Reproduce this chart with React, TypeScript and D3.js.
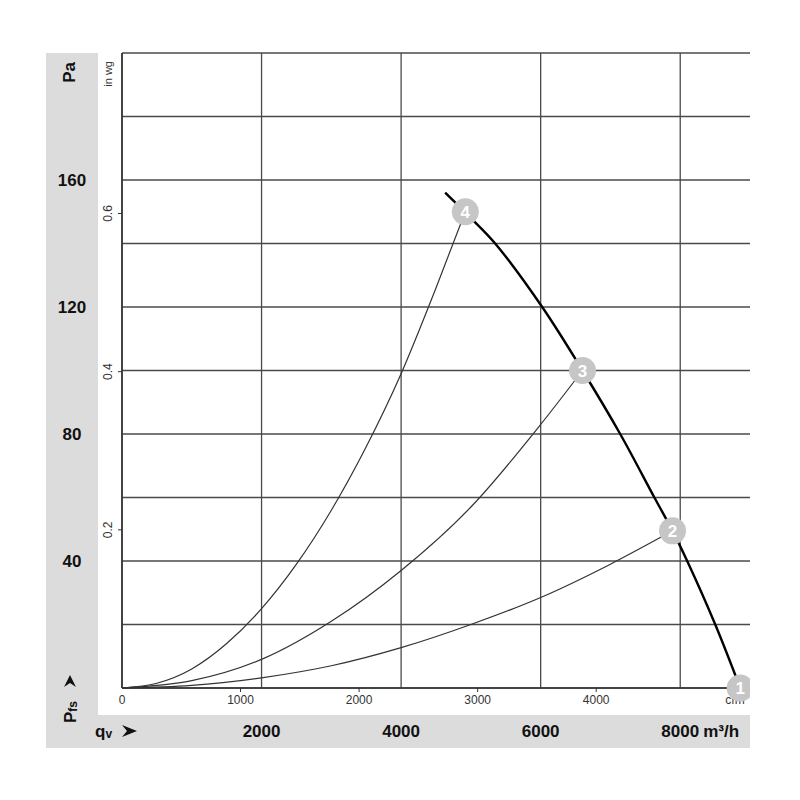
import React from "react";
import * as d3 from "d3";

// ---- data ----
const paTicks = [40, 80, 120, 160];
const qTicks = [2000, 4000, 6000, 8000];
const inwgTicks = [0.2, 0.4, 0.6];
const cfmTicks = [0, 1000, 2000, 3000, 4000];

// fan characteristic curve [m³/h, Pa]
const fanCurve: [number, number][] = [
  [4631, 156], [5000, 148], [5348, 140], [6022, 120], [6600, 100],
  [7140, 80], [7630, 60], [7890, 49.5], [8100, 40], [8502, 20], [8860, 0],
];

// system curves [m³/h, Pa]
const sys4: [number, number][] = [
  [0, 0], [500, 1.5], [1000, 6], [1500, 14], [2000, 25], [2500, 39],
  [3000, 56], [3500, 76], [4000, 99], [4500, 126], [4920, 150],
];
const sys3: [number, number][] = [
  [0, 0], [1000, 2.3], [2000, 9], [3000, 21], [4000, 37], [5000, 57],
  [6000, 83], [6600, 100],
];
const sys2: [number, number][] = [
  [0, 0], [1000, 0.8], [2000, 3.2], [3000, 7], [4000, 12.7], [5000, 20],
  [6000, 28.5], [7000, 39], [7890, 49.5],
];
const systemCurves = [sys2, sys3, sys4];

const markerIds = [1, 2, 3, 4];
const markerQ = [8860, 7890, 6600, 4920];
const markerPa = [0, 49.5, 100, 150];

const PA_PER_INWG = 249.089;
const M3H_PER_CFM = 1.699;

export default function App() {
  const x = d3.scaleLinear().domain([0, 9000]).range([122, 750]);
  const y = d3.scaleLinear().domain([0, 200]).range([688, 53]);
  const line = d3
    .line<[number, number]>()
    .x((d) => x(d[0]))
    .y((d) => y(d[1]))
    .curve(d3.curveMonotoneX);
  const fanLine = d3
    .line<[number, number]>()
    .x((d) => x(d[0]))
    .y((d) => y(d[1]))
    .curve(d3.curveCatmullRom.alpha(0.5));

  const hGrid = d3.range(0, 201, 20);
  const font = "'Liberation Sans', Arial, sans-serif";
  const gridColor = "#4a4a4a";

  return (
    <svg width={800} height={800} style={{ position: "absolute", left: 0, top: 0 }}>
      <rect width={800} height={800} fill="#fff" />
      <defs>
        <clipPath id="plotclip">
          <rect x={0} y={0} width={750} height={800} />
        </clipPath>
      </defs>
      {/* gray frame */}
      <rect x={46} y={53} width={52} height={695} fill="#dcdcdc" />
      <rect x={46} y={715} width={704} height={33} fill="#dcdcdc" />

      {/* grid */}
      {hGrid.map((v) => (
        <line key={"h" + v} x1={x(0)} x2={750} y1={y(v)} y2={y(v)} stroke={gridColor} strokeWidth={1.3} />
      ))}
      {[0, 2000, 4000, 6000, 8000].map((v) => (
        <line key={"v" + v} x1={x(v)} x2={x(v)} y1={y(200)} y2={y(0)} stroke={gridColor} strokeWidth={1.3} />
      ))}
      <line x1={x(0)} x2={x(0)} y1={y(200)} y2={y(0)} stroke="#333" strokeWidth={1.6} />
      <line x1={x(0)} x2={750} y1={y(0)} y2={y(0)} stroke="#333" strokeWidth={1.6} />

      {/* in wg ticks */}
      {inwgTicks.map((v) => {
        const yy = y(v * PA_PER_INWG);
        return (
          <g key={"iw" + v}>
            <line x1={x(0) - 4} x2={x(0)} y1={yy} y2={yy} stroke="#333" strokeWidth={1} />
            <text
              transform={`translate(${112},${yy}) rotate(-90)`}
              textAnchor="middle"
              fontFamily={font}
              fontSize={12}
              fill="#333"
            >
              {v.toFixed(1)}
            </text>
          </g>
        );
      })}
      <text
        transform={`translate(${112},${61}) rotate(-90)`}
        textAnchor="end"
        fontFamily={font}
        fontSize={11}
        fill="#333"
      >
        in wg
      </text>

      {/* cfm ticks */}
      {cfmTicks.map((v) => {
        const xx = x(v * M3H_PER_CFM);
        return (
          <g key={"cf" + v}>
            {v > 0 && <line x1={xx} x2={xx} y1={y(0)} y2={y(0) + 4} stroke="#333" strokeWidth={1} />}
            <text x={xx} y={704} textAnchor="middle" fontFamily={font} fontSize={12} fill="#333">
              {v}
            </text>
          </g>
        );
      })}
      <text x={735} y={704} textAnchor="middle" fontFamily={font} fontSize={12} fill="#333">
        cfm
      </text>

      {/* curves */}
      {systemCurves.map((c, i) => (
        <path key={"s" + i} d={line(c) || ""} fill="none" stroke="#333" strokeWidth={1.2} />
      ))}
      <path d={fanLine(fanCurve) || ""} fill="none" stroke="#000" strokeWidth={2.4} />

      {/* markers */}
      <g clipPath="url(#plotclip)">
        {markerIds.map((id, i) => (
          <g key={"m" + id} transform={`translate(${x(markerQ[i])},${y(markerPa[i])})`}>
            <circle r={13.5} fill="#c6c6c6" />
            <text y={6} textAnchor="middle" fontFamily={font} fontWeight="bold" fontSize={17} fill="#fff">
              {id}
            </text>
          </g>
        ))}
      </g>

      {/* Pa axis labels */}
      <text
        transform={`translate(${75},${62}) rotate(-90)`}
        textAnchor="end"
        fontFamily={font}
        fontWeight="bold"
        fontSize={17}
        fill="#111"
      >
        Pa
      </text>
      {paTicks.map((v) => (
        <text key={"pa" + v} x={72} y={y(v) + 6} textAnchor="middle" fontFamily={font} fontWeight="bold" fontSize={17} fill="#111">
          {v}
        </text>
      ))}

      {/* Pfs label */}
      <g transform={`translate(${76},${723}) rotate(-90)`}>
        <text x={0} y={0} fontFamily={font} fontWeight="bold" fontSize={17} fill="#111">
          P
          <tspan fontSize={12} dy={1}>fs</tspan>
        </text>
        <path d="M36,-12 L48,-6 L36,0 L40,-6 Z" fill="#111" />
      </g>

      {/* qv label */}
      <text x={95} y={737} fontFamily={font} fontWeight="bold" fontSize={17} fill="#111">
        q
        <tspan fontSize={12} dy={1}>v</tspan>
      </text>
      <path d="M122,725 L137,731 L122,737 L127,731 Z" fill="#111" />

      {/* m³/h labels */}
      {qTicks.map((v) => (
        <text key={"q" + v} x={x(v)} y={737} textAnchor="middle" fontFamily={font} fontWeight="bold" fontSize={17} fill="#111">
          {v}
        </text>
      ))}
      <text x={x(8000) + 23} y={737} fontFamily={font} fontWeight="bold" fontSize={17} fill="#111">
        m³/h
      </text>
    </svg>
  );
}
